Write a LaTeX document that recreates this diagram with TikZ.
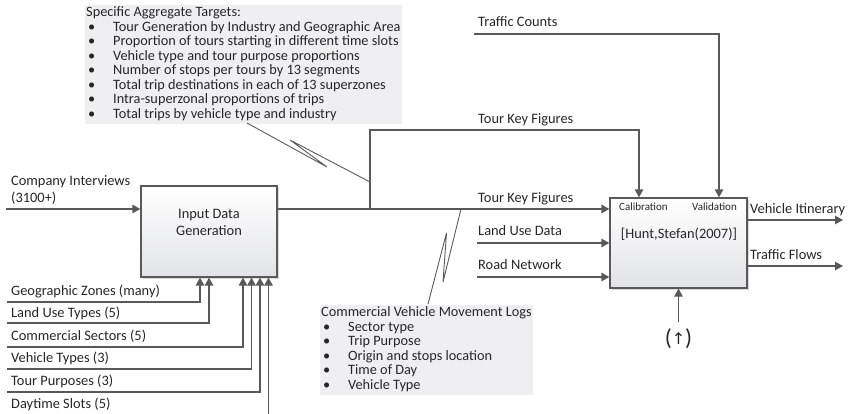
\documentclass[tikz,border=0pt]{standalone}
\usepackage{fontspec}
\setmainfont{Carlito}
\newfontfamily\symfont{DejaVu Sans}
\usetikzlibrary{arrows.meta,shadows}

\definecolor{linegray}{HTML}{595959}
\definecolor{notefill}{HTML}{EFEFF1}
\definecolor{boxlow}{HTML}{E2E3E6}
\definecolor{inkgray}{HTML}{262626}

\tikzset{
  wire/.style={draw=linegray, line width=1.3pt},
  flow/.style={wire, -{Triangle[length=8pt,width=8.5pt]}},
  mainflow/.style={draw=linegray, line width=2pt, -{Triangle[length=8pt,width=8.5pt]}},
  bolt/.style={draw=linegray, line width=0.9pt, line join=miter},
  procbox/.style={draw=linegray, line width=1.3pt, top color=white, bottom color=boxlow,
    drop shadow={shadow xshift=2pt, shadow yshift=-2pt, fill=black, opacity=0.15}},
  lbl/.style={font=\fontsize{14.4}{17}\selectfont, inner sep=0pt, anchor=west, text=inkgray},
  small/.style={font=\fontsize{11}{13}\selectfont, inner sep=0pt, text=inkgray},
  note/.style={fill=notefill, inner xsep=1pt, inner ysep=1.5pt, anchor=north west,
    font=\fontsize{14.3}{14.5}\selectfont, text=inkgray},
}

\begin{document}
\begin{tikzpicture}[x=1pt,y=-1pt]
\useasboundingbox (0,0) rectangle (850,414);

% ---- process boxes ----
\node[procbox, minimum width=136pt, minimum height=91pt] (idg) at (209,231.5) {};
\node[lbl, anchor=center, align=center] (idgtext) at (209,222) {Input Data\\Generation};

\node[procbox, minimum width=137pt, minimum height=90pt] (hunt) at (678.5,243) {};
\node[small, anchor=west] (cal) at (619,207) {Calibration};
\node[small, anchor=east] (val) at (737,207) {Validation};
\node[lbl, anchor=center] (ref) at (679,234) {[Hunt,Stefan(2007)]};

% ---- company interviews ----
\coordinate (ci) at (6,209);
\draw[flow] (ci) -- (idg.west |- ci);
\node[lbl, anchor=base west] (cil1) at (11,185) {Company Interviews};
\node[lbl, anchor=base west] (cil2) at (11,202) {(3100+)};

% ---- classification inputs below the first box ----
\coordinate (gz) at (7,302);   \coordinate (gzx) at (200,0);
\coordinate (lu) at (7,323);   \coordinate (lux) at (209,0);
\coordinate (cs) at (7,347);   \coordinate (csx) at (243,0);
\coordinate (vt) at (7,369);   \coordinate (vtx) at (251.5,0);
\coordinate (tp) at (7,392);   \coordinate (tpx) at (260,0);
\coordinate (ds) at (268.5,416);
\draw[flow] (gz) -| (gzx |- idg.south);
\draw[flow] (lu) -| (lux |- idg.south);
\draw[flow] (cs) -| (csx |- idg.south);
\draw[flow] (vt) -| (vtx |- idg.south);
\draw[flow] (tp) -| (tpx |- idg.south);
\draw[flow] (ds) -- (ds |- idg.south);
\node[lbl, anchor=base west] (gzl) at (11,295) {Geographic Zones (many)};
\node[lbl, anchor=base west] (lul) at (11,317) {Land Use Types (5)};
\node[lbl, anchor=base west] (csl) at (11,340) {Commercial Sectors (5)};
\node[lbl, anchor=base west] (vtl) at (11,362) {Vehicle Types (3)};
\node[lbl, anchor=base west] (tpl) at (11,385) {Tour Purposes (3)};
\node[lbl, anchor=base west] (dsl) at (11,408) {Daytime Slots (5)};

% ---- main data stream ----
\coordinate (br) at (370,209);
\draw[mainflow] (idg.east |- br) -- (hunt.west |- br);
\node[lbl, anchor=base west] (tkf2) at (478,202) {Tour Key Figures};

% calibration branch
\coordinate (calc) at (639,130);
\draw[flow] (br) |- (calc) -- (calc |- hunt.north);
\draw[wire, line width=2pt] (br) -- ++(0,-6);
\node[lbl, anchor=base west] (tkf1) at (478,124) {Tour Key Figures};

% validation branch
\coordinate (tcs) at (474,34);
\coordinate (tce) at (719,34);
\draw[flow] (tcs) -- (tce) -- (tce |- hunt.north);
\node[lbl, anchor=base west] (tcl) at (478,27) {Traffic Counts};

% land use and road network
\coordinate (lud) at (477,243);
\coordinate (rn) at (477,277);
\draw[flow] (lud) -- (hunt.west |- lud);
\draw[flow] (rn) -- (hunt.west |- rn);
\node[lbl, anchor=base west] (ludl) at (478,235) {Land Use Data};
\node[lbl, anchor=base west] (rnl) at (478,269) {Road Network};

% ---- outputs ----
\coordinate (vio) at (843,220);
\coordinate (tfo) at (843,266);
\draw[flow] (hunt.east |- vio) -- (vio);
\draw[flow] (hunt.east |- tfo) -- (tfo);
\node[lbl, anchor=base west] (viol) at (750,213) {Vehicle Itinerary};
\node[lbl, anchor=base west] (tfol) at (750,259) {Traffic Flows};

% mechanism arrow from below
\coordinate (mech) at (678.5,322);
\draw[flow] (mech) -- (mech |- hunt.south);
\node[lbl, anchor=center, font=\fontsize{23}{25}\selectfont] (mechl) at (678.5,339)
  {(\raisebox{1pt}{\symfont\fontsize{16}{18}\selectfont ↑})};

% ---- callout notes ----
\node[note] (targets) at (85,5) {%
  \begin{tabular}{@{}p{27pt}@{}l@{}}
  \multicolumn{2}{@{}l@{}}{Specific Aggregate Targets:}\\
  \hspace{2pt}\textbullet & Tour Generation by Industry and Geographic Area\\
  \hspace{2pt}\textbullet & Proportion of tours starting in different time slots\\
  \hspace{2pt}\textbullet & Vehicle type and tour purpose proportions\\
  \hspace{2pt}\textbullet & Number of stops per tours by 13 segments\\
  \hspace{2pt}\textbullet & Total trip destinations in each of 13 superzones\\
  \hspace{2pt}\textbullet & Intra-superzonal proportions of trips\\
  \hspace{2pt}\textbullet & Total trips by vehicle type and industry
  \end{tabular}};

\node[note] (logs) at (320,305) {%
  \begin{tabular}{@{}p{27pt}@{}l@{}}
  \multicolumn{2}{@{}l@{}}{Commercial Vehicle Movement Logs}\\
  \hspace{2pt}\textbullet & Sector type\\
  \hspace{2pt}\textbullet & Trip Purpose\\
  \hspace{2pt}\textbullet & Origin and stops location\\
  \hspace{2pt}\textbullet & Time of Day\\
  \hspace{2pt}\textbullet & Vehicle Type
  \end{tabular}};

% lightning leaders from the notes to the data stream
\coordinate (b1s) at (247,123);
\coordinate (b1a) at (327,167);
\coordinate (b1b) at (290,140);
\coordinate (b1e) at (370,182);
\draw[bolt] (b1s) -- (b1a) -- (b1b) -- (b1e);

\coordinate (b2s) at (461,209);
\coordinate (b2a) at (443,282);
\coordinate (b2b) at (446.5,233);
\coordinate (b2e) at (428,304);
\draw[bolt] (b2s) -- (b2a) -- (b2b) -- (b2e);
\end{tikzpicture}
\end{document}
